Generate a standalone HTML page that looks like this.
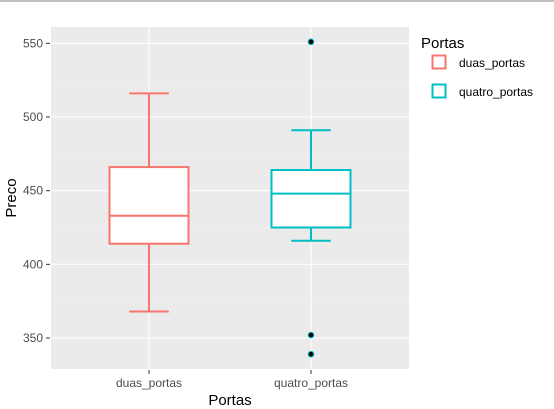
<!DOCTYPE html>
<html><head><meta charset="utf-8"><style>
body{margin:0;background:#fff;}
svg{display:block;font-family:"Liberation Sans",sans-serif;}
</style></head><body>
<svg id="chart" width="554" height="409">
<line x1="0" y1="1" x2="554" y2="1" stroke="#c0c0c0" stroke-width="2"/>
<rect x="51" y="27" width="358" height="342" fill="#ebebeb"/>
<g id="grid"></g>
<g id="boxes"></g>
<g id="axes"></g>
<text x="230" y="409" dy="-4" text-anchor="middle" font-size="15" fill="#000">Portas</text>
<text transform="translate(16,198) rotate(-90)" text-anchor="middle" font-size="15" fill="#000">Preco</text>
<g>
<text x="421" y="48" font-size="15" fill="#000">Portas</text>
<rect x="432.5" y="55.5" width="13" height="13" fill="#fff" stroke="#F8766D" stroke-width="2"/>
<text x="459" y="67" font-size="12" fill="#000">duas_portas</text>
<rect x="432.5" y="84.5" width="13" height="13" fill="#fff" stroke="#00BFC4" stroke-width="2"/>
<text x="459" y="96" font-size="12" fill="#000">quatro_portas</text>
</g>
</svg>
<script>
const categories=["duas_portas","quatro_portas"];
const colors=["#F8766D","#00BFC4"];
const whiskerLow=[368,416];
const q1=[414,425];
const medians=[433,448];
const q3=[466,464];
const whiskerHigh=[516,491];
const outliers=[[],[551,352,339]];
const yTicks=[350,400,450,500,550];
const NS="http://www.w3.org/2000/svg";
const X0=51,X1=409,Y0=27,Y1=369;
function y(v){return 338-(v-350)*(221/150);}
function x(i){return 149+i*162;}
const bandHalf=39.5;
function mk(tag,attrs,parent){const e=document.createElementNS(NS,tag);for(const k in attrs)e.setAttribute(k,attrs[k]);parent.appendChild(e);return e;}
const grid=document.getElementById('grid'),boxes=document.getElementById('boxes'),axes=document.getElementById('axes');
yTicks.forEach((t,i)=>{
 const g=mk('line',{x1:X0,x2:X1,y1:y(t),y2:y(t),stroke:'#fff','stroke-width':1.1},grid);
 
 
 if(i<yTicks.length-1){const m=mk('line',{x1:X0,x2:X1,y1:y(t+25),y2:y(t+25),stroke:'#f5f5f5','stroke-width':0.5},grid);
 
 }
 const tk=mk('line',{x1:46,x2:50,y1:y(t),y2:y(t),stroke:'#333'},axes);
 
 
 const lb=mk('text',{x:43,y:y(t)+4,'text-anchor':'end','font-size':12,fill:'#4d4d4d'},axes);
 lb.textContent=t;
 
 
});
categories.forEach((c,i)=>{
 const cx=x(i),col=colors[i];
 const gl=mk('line',{x1:cx,x2:cx,y1:Y0,y2:Y1,stroke:'#fff','stroke-width':1.1},grid);
 
 
 const tk=mk('line',{x1:cx,x2:cx,y1:370,y2:374,stroke:'#333'},axes);
 
 
 const lb=mk('text',{x:cx,y:387,'text-anchor':'middle','font-size':12,fill:'#4d4d4d'},axes);
 lb.textContent=c;
 
 
 const g=mk('g',{},boxes);
 
 
 const w1=mk('line',{x1:cx,x2:cx,y1:y(whiskerHigh[i]),y2:y(q3[i]),stroke:col,'stroke-width':2},g);
 
 
 const w2=mk('line',{x1:cx,x2:cx,y1:y(q1[i]),y2:y(whiskerLow[i]),stroke:col,'stroke-width':2},g);
 
 
 [whiskerHigh[i],whiskerLow[i]].forEach(v=>{
  const cap=mk('line',{x1:cx-bandHalf/2,x2:cx+bandHalf/2,y1:y(v),y2:y(v),stroke:col,'stroke-width':2},g);
  
  
 });
 const r=mk('rect',{x:cx-bandHalf,y:y(q3[i]),width:bandHalf*2,height:y(q1[i])-y(q3[i]),fill:'#fff',stroke:col,'stroke-width':2},g);
 
 
 const md=mk('line',{x1:cx-bandHalf,x2:cx+bandHalf,y1:y(medians[i]),y2:y(medians[i]),stroke:col,'stroke-width':2},g);
 
 
 outliers[i].forEach(v=>{
  const o=mk('circle',{cx:cx,cy:y(v),r:2.8,fill:'#000',stroke:col,'stroke-width':1},g);
  
  
 });
});
</script>
</body></html>
